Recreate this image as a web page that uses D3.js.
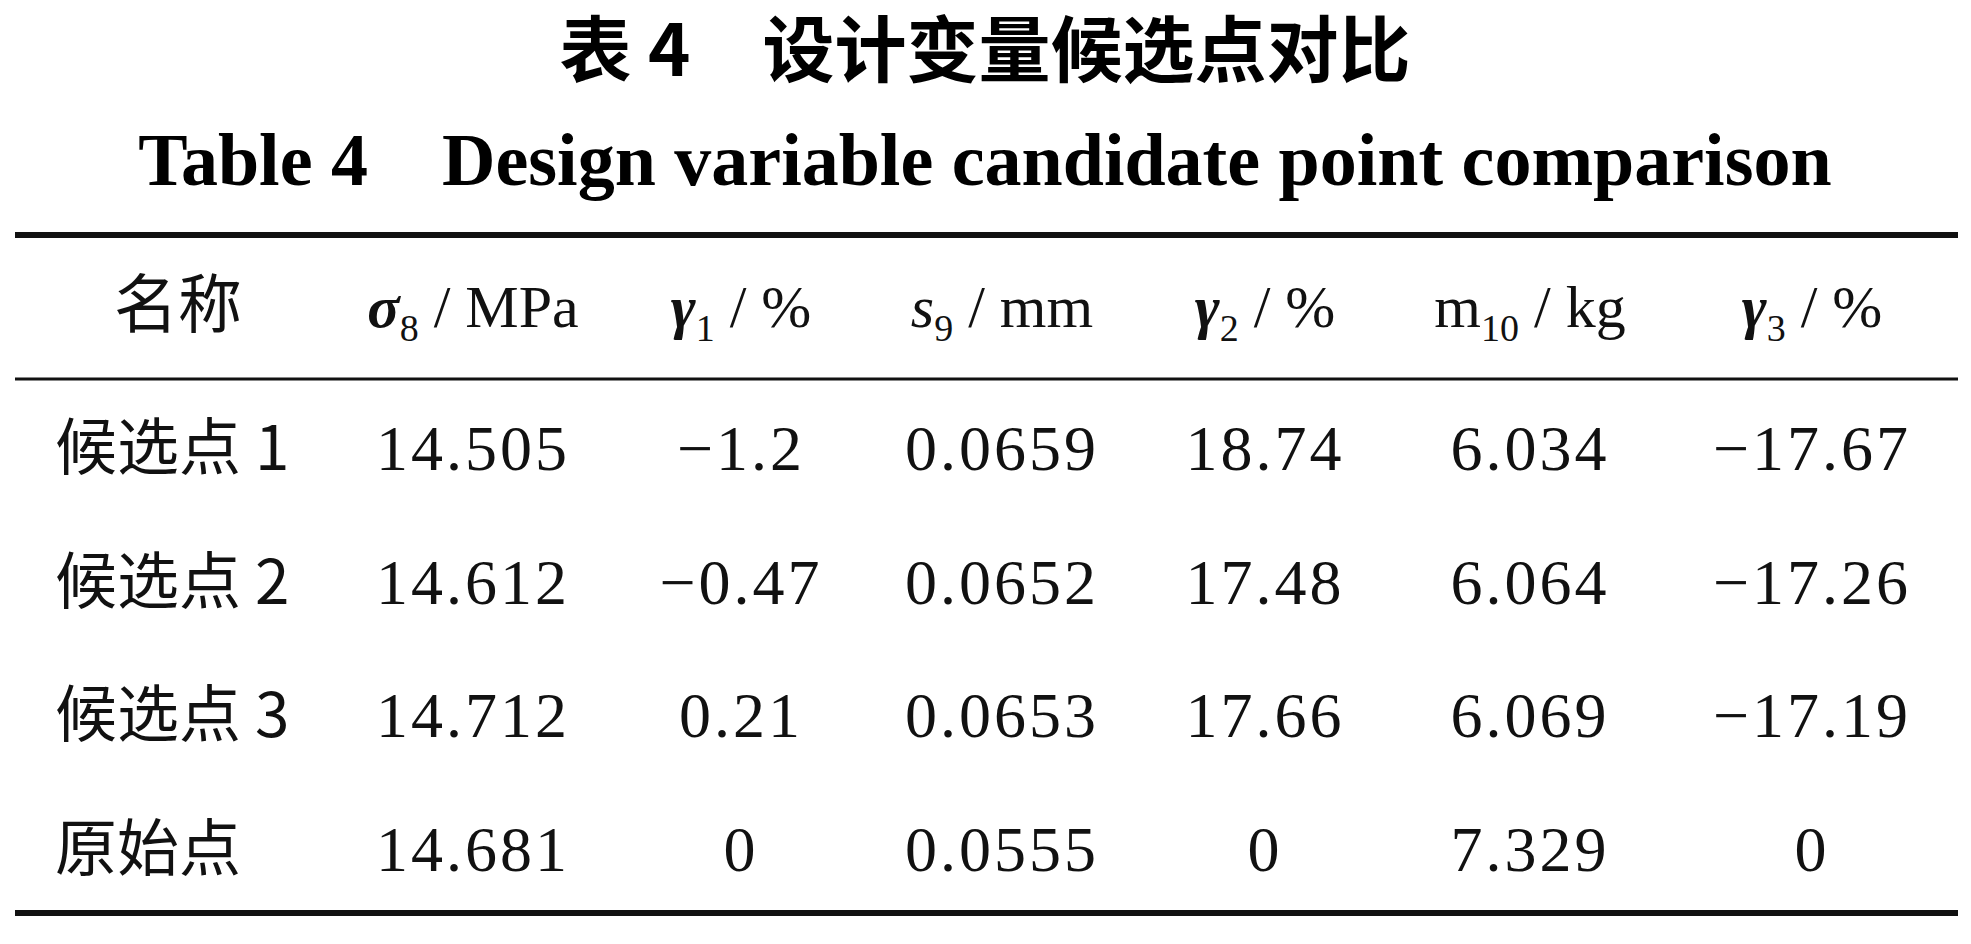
<!DOCTYPE html>
<html><head><meta charset="utf-8">
<script src="https://cdn.jsdelivr.net/npm/d3@7"></script>
<style>body{margin:0;background:#fff}</style></head>
<body><svg id="c" width="1971" height="944"></svg>
<script>
const titleZh = "表 4　设计变量候选点对比";
const titleEn = "Table 4　Design variable candidate point comparison";
const columns = ["名称","σ8/MPa","γ1/%","s9/mm","γ2/%","m10/kg","γ3/%"];
const rowNames = ["候选点 1","候选点 2","候选点 3","原始点"];
const sigma8 = ["14.505","14.612","14.712","14.681"];
const gamma1 = ["−1.2","−0.47","0.21","0"];
const s9 = ["0.0659","0.0652","0.0653","0.0555"];
const gamma2 = ["18.74","17.48","17.66","0"];
const m10 = ["6.034","6.064","6.069","7.329"];
const gamma3 = ["−17.67","−17.26","−17.19","0"];

const svg = d3.select("#c");
const serif = "'Liberation Serif','Times New Roman',serif";
const cjk = "'Noto Sans CJK SC',sans-serif";
const colX = [178,473,741,1002,1265,1530,1812];
const x = d3.scaleOrdinal().domain(columns).range(colX);
const y = d3.scalePoint().domain(rowNames).range([448,849]);

svg.append("text").attr("x",985).attr("y",76).attr("text-anchor","middle")
  .attr("font-family",cjk).attr("font-weight","bold").attr("font-size",72).text(titleZh);
svg.append("text").attr("x",985).attr("y",185).attr("text-anchor","middle")
  .attr("font-family",serif).attr("font-weight","bold").attr("font-size",74).text(titleEn);

const line=(yy,w)=>svg.append("line").attr("x1",15).attr("x2",1958).attr("y1",yy).attr("y2",yy).attr("stroke","#111").attr("stroke-width",w);
line(235,6); line(379,3); line(913,6);

const hy = 327;
const hdr = [
  {t:"名称",cjk:true},
  {b:"σ",i:true,sub:"8",a:" / MPa"},
  {b:"γ",i:true,sub:"1",a:" / %"},
  {b:"s",i:true,sub:"9",a:" / mm"},
  {b:"γ",i:true,sub:"2",a:" / %"},
  {b:"m",i:false,sub:"10",a:" / kg"},
  {b:"γ",i:true,sub:"3",a:" / %"}];
hdr.forEach((h,k)=>{
  const t = svg.append("text").attr("x",x(columns[k])).attr("y",hy).attr("text-anchor","middle")
    .attr("font-size",60).attr("fill","#111").attr("font-family",h.cjk?cjk:serif);
  if(h.cjk){t.attr("font-size",64).text(h.t);return;}
  t.append("tspan").attr("font-style",h.i?"italic":"normal").attr("font-weight",h.b==="γ"||h.b==="σ"?"bold":"normal").text(h.b);
  t.append("tspan").attr("font-size",38).attr("dy",14).text(h.sub);
  t.append("tspan").attr("dy",-14).text(h.a);
});

const cols=[rowNames,sigma8,gamma1,s9,gamma2,m10,gamma3];
rowNames.forEach((r,i)=>{
  cols.forEach((c,k)=>{
    svg.append("text").attr("x",k===0?55:x(columns[k])).attr("y",y(r)+22)
      .attr("text-anchor",k===0?"start":"middle")
      .attr("font-family",k===0?cjk:serif).attr("font-size",k===0?62:64).attr("fill","#111")
      .attr("letter-spacing",k===0?0:3).text(c[i]);
  });
});
</script></body></html>
